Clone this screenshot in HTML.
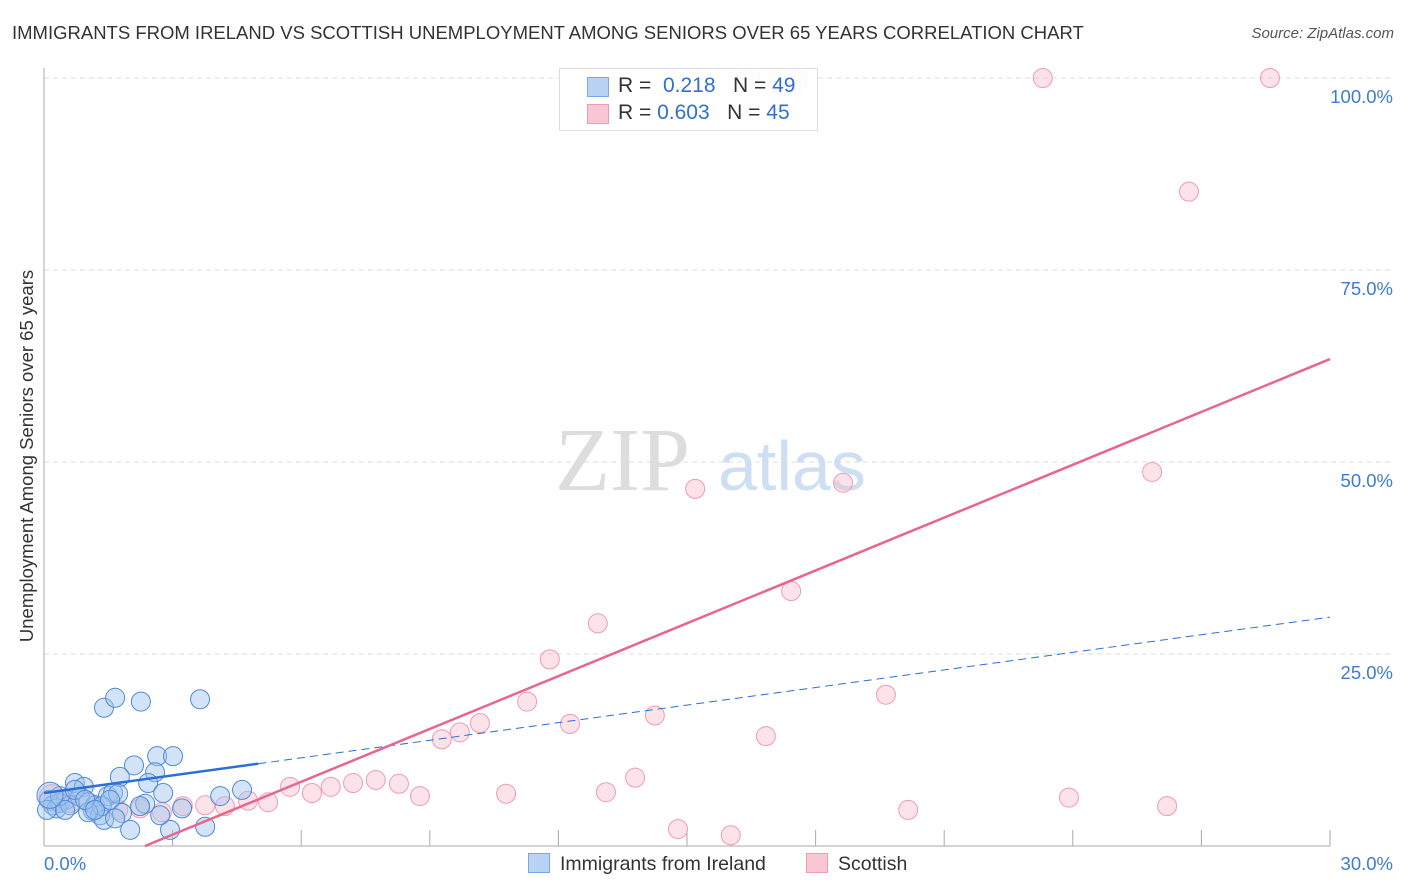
<!DOCTYPE html>
<html><head><meta charset="utf-8">
<style>
body{margin:0;background:#fff;font-family:"Liberation Sans",sans-serif;}
#wrap{position:relative;width:1406px;height:892px;overflow:hidden;}
.t{position:absolute;white-space:nowrap;}
</style></head><body>
<div id="wrap">
<div class="t" style="left:12px;top:22px;font-size:18.5px;color:#333;">IMMIGRANTS FROM IRELAND VS SCOTTISH UNEMPLOYMENT AMONG SENIORS OVER 65 YEARS CORRELATION CHART</div>
<div class="t" style="right:12px;top:25px;font-size:15px;color:#555;font-style:italic;">Source: ZipAtlas.com</div>
<div class="t" style="left:27px;top:456px;font-size:18.5px;color:#333;transform:translate(-50%,-50%) rotate(-90deg);">Unemployment Among Seniors over 65 years</div>
<svg id="svg" width="1406" height="892" style="position:absolute;left:0;top:0"></svg>
<div style="position:absolute;left:559px;top:68px;width:257px;height:61px;border:1px solid #ddd;background:rgba(255,255,255,0.9);font-size:21px;">
 <div style="position:absolute;left:27px;top:8px;width:20px;height:18px;background:#b9d3f5;border:1px solid #7aa7e6;"></div>
 <div class="t" style="left:58px;top:5px;color:#333">R = <span style="color:#2f6fd1">&nbsp;0.218</span>&nbsp;&nbsp;&nbsp;N = <span style="color:#2f6fd1">49</span></div>
 <div style="position:absolute;left:27px;top:35px;width:20px;height:18px;background:#f9c6d4;border:1px solid #ee9bb3;"></div>
 <div class="t" style="left:58px;top:32px;color:#333">R = <span style="color:#2f6fd1">0.603</span>&nbsp;&nbsp;&nbsp;N = <span style="color:#2f6fd1">45</span></div>
</div>
<div style="position:absolute;left:528px;top:852px;font-size:19.5px;color:#333;">
 <div style="position:absolute;left:0;top:1px;white-space:nowrap;"><span style="display:inline-block;width:20px;height:18px;background:#b9d3f5;border:1px solid #7aa7e6;vertical-align:-3px;margin-right:10px"></span>Immigrants from Ireland</div>
 <div style="position:absolute;left:278px;top:1px;white-space:nowrap;"><span style="display:inline-block;width:20px;height:18px;background:#f9c6d4;border:1px solid #ee9bb3;vertical-align:-3px;margin-right:10px"></span>Scottish</div>
</div>
</div>
<script>
const xTicks=[0,3,6,9,12,15,18,21,24,27,30];
const yTicks=[25,50,75,100];
const yTickLabels=["25.0%","50.0%","75.0%","100.0%"];
const blueX=[1.4,1.66,2.26,3.64,2.1,2.64,3.01,2.59,1.77,2.43,0.72,0.93,0.12,0.21,0.37,0.51,0.84,1.03,1.19,1.49,1.61,1.73,2.36,2.78,3.22,4.11,4.62,1.14,1.31,1.4,1.82,2.01,2.94,3.76,1.35,1.54,0.3,0.07,0.61,1.03,2.24,2.71,0.37,0.72,0.49,0.14,0.96,1.66,1.19];
const blueY=[18.0,19.3,18.8,19.1,10.5,11.7,11.7,9.6,9.0,8.2,8.2,7.7,6.0,5.3,5.6,6.0,6.4,5.7,5.3,6.5,6.9,6.8,5.5,6.9,4.9,6.5,7.3,4.6,4.0,3.4,4.3,2.1,2.1,2.5,5.2,6.0,4.9,4.7,5.3,4.4,5.2,4.0,6.5,7.3,4.7,6.6,6.0,3.6,4.7];
const pinkX=[23.3,28.6,16.47,17.57,26.71,18.64,15.19,25.85,17.43,12.92,11.8,11.27,19.64,14.25,10.17,9.7,9.28,12.27,16.84,13.79,7.74,7.21,8.28,6.69,5.74,6.25,8.77,10.78,13.11,23.91,26.2,20.16,14.79,16.02,5.23,4.76,4.22,3.76,3.24,2.75,2.24,1.73,1.19,0.61,0.19];
const pinkY=[100,100,100,99.7,85.2,47.3,46.5,48.7,33.2,29.0,24.3,18.8,19.7,17.0,16.0,14.8,13.9,15.9,14.3,8.9,8.6,8.2,8.1,7.7,7.7,6.9,6.5,6.8,7.0,6.3,5.2,4.7,2.2,1.4,5.7,5.9,5.2,5.3,5.2,4.4,4.9,4.7,5.3,5.6,6.3];
const blueFit=[6.9,29.8]; // y at x=0, x=30
const pinkFit=[-5.4,63.4];
const X=v=>44+v/30*1286, Y=v=>846-v/100*768;
const svg=document.getElementById('svg');const NS='http://www.w3.org/2000/svg';
function mk(t,a){const e=document.createElementNS(NS,t);for(const k in a)e.setAttribute(k,a[k]);svg.appendChild(e);return e;}
yTicks.forEach((v,i)=>{
 const l=mk('line',{x1:44,x2:1394,y1:Y(v),y2:Y(v),stroke:'#ddd','stroke-dasharray':'5,4'});
 
 
 const t=mk('text',{x:1393,y:Y(v)+25,'text-anchor':'end','font-size':18.5,fill:'#3d7bd9','font-family':'Liberation Sans'});
 t.textContent=yTickLabels[i];
 
 
});
let ax=mk('line',{x1:44,x2:44,y1:68,y2:846,stroke:'#aaa'});


ax=mk('line',{x1:44,x2:1330,y1:846,y2:846,stroke:'#aaa'});


xTicks.forEach(v=>{const l=mk('line',{x1:X(v),x2:X(v),y1:830,y2:846,stroke:'#aaa'});
 
 });
[[0,'0.0%','start',44],[30,'30.0%','end',1393]].forEach(a=>{const t=mk('text',{x:a[3],y:870,'text-anchor':a[2],'font-size':18.5,fill:'#3d7bd9','font-family':'Liberation Sans'});t.textContent=a[1];
 
 });
let w=mk('text',{x:555,y:490,'font-size':90,fill:'#ddd','font-family':'Liberation Serif'});w.textContent='ZIP';


w=mk('text',{x:718,y:490,'font-size':70,fill:'#cfdff3','font-family':'Liberation Sans'});w.textContent='atlas';


pinkX.forEach((x,i)=>{const c=mk('circle',{cx:X(x),cy:Y(pinkY[i]),r:i==pinkX.length-1?13:9.5,fill:'rgba(247,182,201,0.4)',stroke:'#ee9bb3','stroke-width':1});
 
 });
blueX.forEach((x,i)=>{const c=mk('circle',{cx:X(x),cy:Y(blueY[i]),r:i==blueX.length-4?13:9.5,fill:'rgba(160,196,240,0.45)',stroke:'#4f8ad8','stroke-width':1});
 
 });
const by=x=>blueFit[0]+(blueFit[1]-blueFit[0])*x/30;
let l=mk('line',{x1:X(0),y1:Y(by(0)),x2:X(5),y2:Y(by(5)),stroke:'#2a6fd6','stroke-width':2.5});


l=mk('line',{x1:X(5),y1:Y(by(5)),x2:X(30),y2:Y(by(30)),stroke:'#2a6fd6','stroke-width':1,'stroke-dasharray':'8,5'});


const py=x=>pinkFit[0]+(pinkFit[1]-pinkFit[0])*x/30;
const x0=-pinkFit[0]*30/(pinkFit[1]-pinkFit[0]);
l=mk('line',{x1:X(x0),y1:Y(0),x2:X(30),y2:Y(py(30)),stroke:'#e8658f','stroke-width':2.5});


</script>
</body></html>
